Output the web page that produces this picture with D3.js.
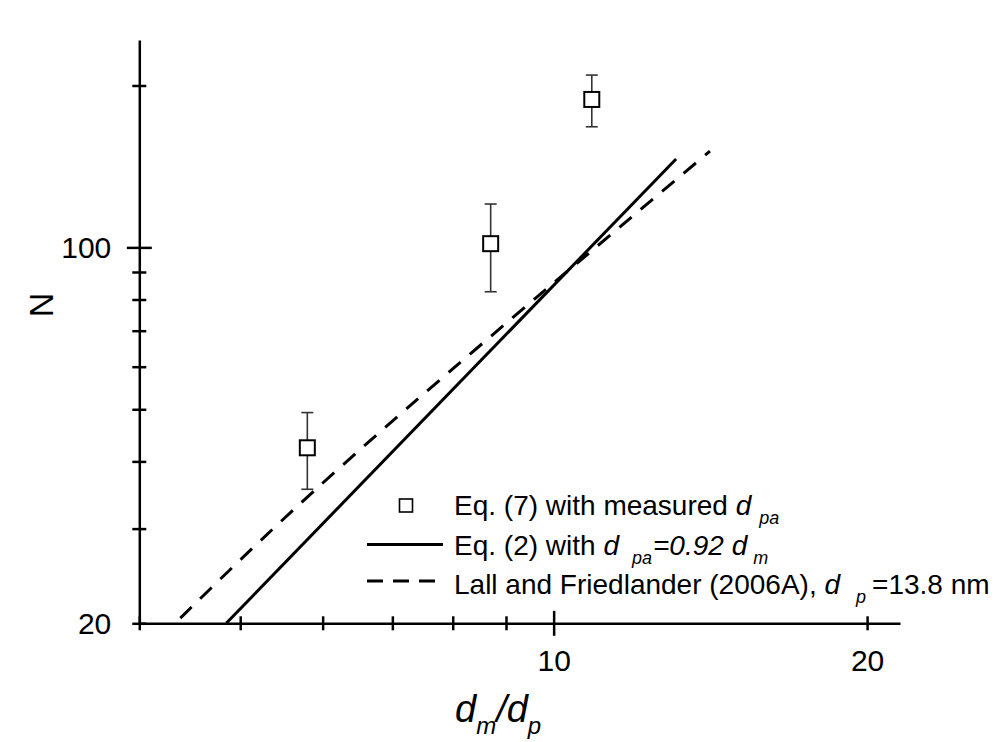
<!DOCTYPE html>
<html>
<head>
<meta charset="utf-8">
<script src="https://cdn.jsdelivr.net/npm/d3@7"></script>
<style>
  body { margin: 0; background: #fff; }
  svg { display: block; }
  text { font-family: "Liberation Sans", Arial, Helvetica, sans-serif; fill: #000; }
</style>
</head>
<body>
<svg id="chart" width="1001" height="742"></svg>
<script>
// Number of primary particles N versus mobility / primary diameter ratio

// Measured points (Eq. 7) with error bars
const measRatio  = [5.80, 8.70, 10.88];
const measN      = [42.4, 101.6, 188.4];
const measNLow   = [35.5, 82.7, 167.6];
const measNHigh  = [49.3, 120.4, 209.1];

// Eq. (2) with d_pa = 0.92 d_m
const eq2Ratio = [4.848, 13.11];
const eq2N     = [20, 146];

// Lall and Friedlander (2006A), d_p = 13.8 nm
const lallRatio = [4.38, 6.69, 14.13];
const lallN     = [20.45, 44.0, 151];

// Axis ticks
const xTickValues = [4, 5, 6, 7, 8, 9, 10, 20];
const xTickLabels = ["", "", "", "", "", "", "10", "20"];
const xMajor      = [10];
const yTickValues = [20, 30, 40, 50, 60, 70, 80, 90, 100, 200];
const yTickLabels = ["20", "", "", "", "", "", "", "", "100", ""];
const yMajor      = [100];

const svg = d3.select("#chart");

const x = d3.scaleLog().domain([4, 21.51]).range([139.3, 900]);
const y = d3.scaleLog().domain([20, 243]).range([623.3, 40]);

const AXIS_W = 2.5, MINOR = 7, MAJOR = 12.5;

// X axis
const gx = svg.append("g")
  .attr("transform", `translate(0,${y(20)})`)
  .call(d3.axisBottom(x).tickValues(xTickValues)
        .tickFormat((d, i) => xTickLabels[i]).tickSizeOuter(0))
  .attr("font-family", null).attr("font-size", null);
gx.select(".domain").attr("stroke-width", AXIS_W);
gx.selectAll(".tick line")
  .attr("y1", d => xMajor.includes(d) ? -MAJOR : -MINOR)
  .attr("y2", d => xMajor.includes(d) ? MAJOR : MINOR)
  .attr("stroke-width", AXIS_W);
gx.selectAll(".tick text")
  .attr("y", 48).attr("dy", null)
  .style("font-size", "30px");

// Y axis
const gy = svg.append("g")
  .attr("transform", `translate(${x(4)},0)`)
  .call(d3.axisLeft(y).tickValues(yTickValues)
        .tickFormat((d, i) => yTickLabels[i]).tickSizeOuter(0))
  .attr("font-family", null).attr("font-size", null);
gy.select(".domain").attr("stroke-width", AXIS_W);
gy.selectAll(".tick line")
  .attr("x1", d => yMajor.includes(d) ? -MAJOR : -MINOR)
  .attr("x2", d => yMajor.includes(d) ? MAJOR : MINOR)
  .attr("stroke-width", AXIS_W);
gy.selectAll(".tick text")
  .attr("x", -28).attr("dy", "0.35em")
  .style("font-size", "30px");

// Axis titles
svg.append("text")
  .attr("transform", `translate(53,305) rotate(-90)`)
  .attr("text-anchor", "middle")
  .style("font-size", "34px")
  .text("N");

const xt = svg.append("text")
  .attr("x", 455).attr("y", 722)
  .style("font-size", "38px").style("font-style", "italic");
xt.append("tspan").text("d");
xt.append("tspan").attr("dy", 12).style("font-size", "24px").text("m");
xt.append("tspan").attr("dy", -12).text("/d");
xt.append("tspan").attr("dy", 12).style("font-size", "24px").text("p");

// Model curves
const line = d3.line().x(d => x(d[0])).y(d => y(d[1]));

svg.append("path")
  .datum(eq2Ratio.map((r, i) => [r, eq2N[i]]))
  .attr("d", line)
  .attr("fill", "none").attr("stroke", "#000").attr("stroke-width", 3);

svg.append("path")
  .datum(lallRatio.map((r, i) => [r, lallN[i]]))
  .attr("d", line.curve(d3.curveNatural))
  .attr("fill", "none").attr("stroke", "#000").attr("stroke-width", 3)
  .attr("stroke-dasharray", "16,12");

// Measured points with error bars
const pts = measRatio.map((r, i) => ({ r, n: measN[i], lo: measNLow[i], hi: measNHigh[i] }));
const gp = svg.append("g").selectAll("g").data(pts).join("g");
gp.append("line")
  .attr("x1", d => x(d.r)).attr("x2", d => x(d.r))
  .attr("y1", d => y(d.lo)).attr("y2", d => y(d.hi))
  .attr("stroke", "#333").attr("stroke-width", 1.6);
["lo", "hi"].forEach(k => {
  gp.append("line")
    .attr("x1", d => x(d.r) - 6).attr("x2", d => x(d.r) + 6)
    .attr("y1", d => y(d[k])).attr("y2", d => y(d[k]))
    .attr("stroke", "#333").attr("stroke-width", 1.6);
});
gp.append("rect")
  .attr("x", d => x(d.r) - 7.5).attr("y", d => y(d.n) - 7.5)
  .attr("width", 15).attr("height", 15)
  .attr("fill", "#fff").attr("stroke", "#000").attr("stroke-width", 2);

// Legend
const legend = svg.append("g");
const LX = 454, FS = "28px", SUB = "18px";

legend.append("rect")
  .attr("x", 399.5).attr("y", 499).attr("width", 13).attr("height", 13)
  .attr("fill", "#fff").attr("stroke", "#000").attr("stroke-width", 1.6);
const t1 = legend.append("text").attr("x", LX).attr("y", 515).style("font-size", FS);
t1.append("tspan").text("Eq. (7) with measured ");
t1.append("tspan").style("font-style", "italic").text("d");
t1.append("tspan").attr("dx", 8).attr("dy", 9).style("font-style", "italic").style("font-size", SUB).text("pa");

legend.append("line")
  .attr("x1", 367).attr("x2", 443).attr("y1", 544.5).attr("y2", 544.5)
  .attr("stroke", "#000").attr("stroke-width", 3);
const t2 = legend.append("text").attr("x", LX).attr("y", 554.5).style("font-size", FS);
t2.append("tspan").text("Eq. (2) with ");
t2.append("tspan").style("font-style", "italic").text("d");
t2.append("tspan").attr("dx", 13).attr("dy", 9).style("font-style", "italic").style("font-size", SUB).text("pa");
t2.append("tspan").attr("dx", 1).attr("dy", -9).style("font-style", "italic").text("=0.92 d");
t2.append("tspan").attr("dx", 6).attr("dy", 9).style("font-style", "italic").style("font-size", SUB).text("m");

legend.append("line")
  .attr("x1", 367).attr("x2", 435).attr("y1", 581).attr("y2", 581)
  .attr("stroke", "#000").attr("stroke-width", 3)
  .attr("stroke-dasharray", "16,10");
const t3 = legend.append("text").attr("x", LX).attr("y", 594).style("font-size", FS);
t3.append("tspan").text("Lall and Friedlander (2006A), ");
t3.append("tspan").style("font-style", "italic").text("d");
t3.append("tspan").attr("dx", 16).attr("dy", 9).style("font-style", "italic").style("font-size", SUB).text("p");
t3.append("tspan").attr("dx", 6).attr("dy", -9).text("=13.8 nm");
</script>
</body>
</html>
